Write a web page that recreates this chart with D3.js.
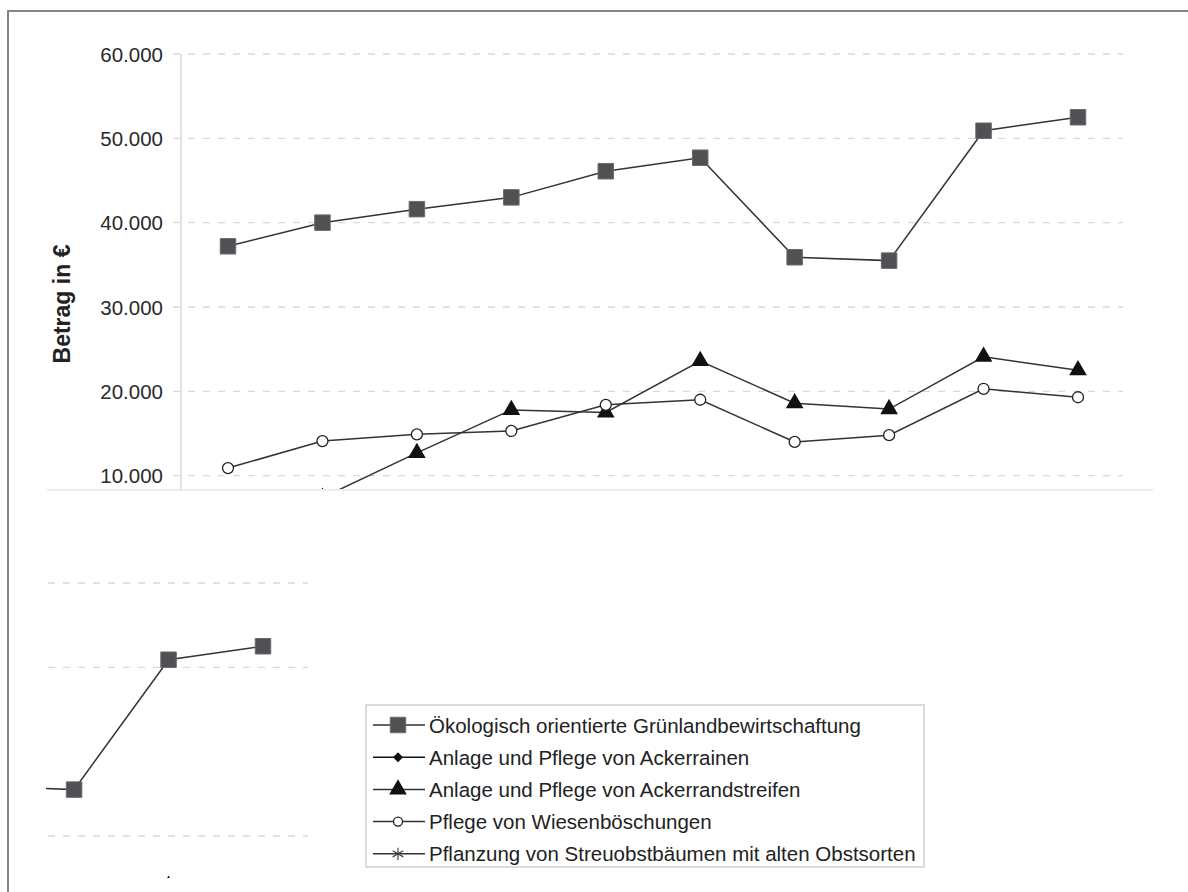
<!DOCTYPE html>
<html>
<head>
<meta charset="utf-8">
<script src="https://cdn.jsdelivr.net/npm/d3@7"></script>
<style>
  html, body { margin: 0; padding: 0; background: #fff; }
  svg { display: block; font-family: "Liberation Sans", Arial, sans-serif; }
</style>
</head>
<body>
<svg id="chart" width="1188" height="892"></svg>
<script>
// Years of the funding period (x categories, no axis labels drawn)
const years = ["1998", "1999", "2000", "2001", "2002", "2003", "2004", "2005", "2006", "2007"];

// Amounts in euro per measure
const gruenland    = [37200, 40000, 41600, 43000, 46100, 47700, 35900, 35500, 50900, 52500];
const ackerraine   = [1200, 1500, 1700, 2000, 2300, 2600, 2100, 2000, 2800, 2700];
const randstreifen = [4500, 7400, 12700, 17800, 17500, 23600, 18600, 17900, 24100, 22500];
const boeschungen  = [10900, 14100, 14900, 15300, 18400, 19000, 14000, 14800, 20300, 19300];
const streuobst    = [600, 800, 900, 1100, 1300, 1500, 1200, 1300, 1600, 1500];

const yTicks = [10000, 20000, 30000, 40000, 50000, 60000];
const repeatGrid = [60000, 50000, 30000];

const seriesNames = [
  "Ökologisch orientierte Grünlandbewirtschaftung",
  "Anlage und Pflege von Ackerrainen",
  "Anlage und Pflege von Ackerrandstreifen",
  "Pflege von Wiesenböschungen",
  "Pflanzung von Streuobstbäumen mit alten Obstsorten"
];

const series = [
  { name: seriesNames[0], values: gruenland,    marker: "square",   line: "#333" },
  { name: seriesNames[1], values: ackerraine,   marker: "diamond",  line: "#111" },
  { name: seriesNames[2], values: randstreifen, marker: "triangle", line: "#333" },
  { name: seriesNames[3], values: boeschungen,  marker: "circle",   line: "#333" },
  { name: seriesNames[4], values: streuobst,    marker: "asterisk", line: "#333" }
];

const svg = d3.select("#chart");
const de = d3.formatLocale({ decimal: ",", thousands: ".", grouping: [3], currency: ["", " €"] });
const fmt = de.format(",d");

const x = d3.scalePoint().domain(years).range([228, 1078]);
const y = d3.scaleLinear().domain([0, 60000]).range([560, 54]);

// outer frame (left and top edges)
svg.append("path")
  .attr("d", "M8,892V11H1188")
  .attr("fill", "none").attr("stroke", "#858585").attr("stroke-width", 2);

const defs = svg.append("defs");
defs.append("clipPath").attr("id", "plotClip")
  .append("rect").attr("x", 47).attr("y", 0).attr("width", 1106).attr("height", 490);
defs.append("clipPath").attr("id", "repeatClip")
  .append("rect").attr("x", 46).attr("y", 560).attr("width", 290).attr("height", 318);

function markerPath(kind, big) {
  const s = big ? 1 : 0.75;
  switch (kind) {
    case "square":   return d3.symbol(d3.symbolSquare, 240 * s * s)();
    case "diamond":  return d3.symbol(d3.symbolSquare, 90 * s * s)();
    case "triangle": return d3.symbol(d3.symbolTriangle, 135 * s * s)();
    case "asterisk": return d3.symbol(d3.symbolAsterisk || d3.symbolCross, 190 * s * s)();
  }
  return null;
}

function drawMarker(g, kind, big) {
  if (kind === "circle") {
    g.append("circle").attr("r", big ? 5.5 : 4.5)
      .attr("fill", "#fff").attr("stroke", "#222").attr("stroke-width", 1.3);
    return;
  }
  const p = g.append("path").attr("d", markerPath(kind, big));
  if (kind === "square") p.attr("fill", "#505154").attr("stroke", "#6a6a6a").attr("stroke-width", 1);
  else if (kind === "asterisk") p.attr("fill", "none").attr("stroke", "#444").attr("stroke-width", 1.2);
  else if (kind === "diamond") p.attr("fill", "#111").attr("transform", "rotate(45)");
  else p.attr("fill", "#111");
}

function drawPlot(root, gridValues) {
  root.append("g").selectAll("line").data(gridValues).join("line")
    .attr("x1", 173).attr("x2", 1123)
    .attr("y1", d => y(d)).attr("y2", d => y(d))
    .attr("stroke", "#d9d9d9").attr("stroke-width", 1.3)
    .attr("stroke-dasharray", "7,8");

  const line = d3.line().x((d, i) => x(years[i])).y(d => y(d));
  series.forEach(s => {
    root.append("path").datum(s.values)
      .attr("d", line)
      .attr("fill", "none").attr("stroke", s.line).attr("stroke-width", 1.5);
  });
  series.forEach(s => {
    s.values.forEach((v, i) => {
      const g = root.append("g").attr("transform", `translate(${x(years[i])},${y(v)})`);
      drawMarker(g, s.marker, true);
    });
  });
}

// main plot
const main = svg.append("g").attr("clip-path", "url(#plotClip)");
drawPlot(main, yTicks);

// y axis line
svg.append("line")
  .attr("x1", 181).attr("x2", 181).attr("y1", y(60000)).attr("y2", 490)
  .attr("stroke", "#cfcfcf").attr("stroke-width", 1.2);

// lower edge of the plot area
svg.append("line")
  .attr("x1", 47).attr("x2", 1153).attr("y1", 490).attr("y2", 490)
  .attr("stroke", "#ececec").attr("stroke-width", 2);

// tick labels
svg.append("g").selectAll("text").data(yTicks).join("text")
  .attr("x", 163).attr("y", d => y(d))
  .attr("text-anchor", "end").attr("dominant-baseline", "central")
  .attr("font-size", 20.5).attr("fill", "#2a2a2a")
  .text(d => fmt(d));

// y axis title
svg.append("text")
  .attr("transform", "translate(62,304) rotate(-90)")
  .attr("text-anchor", "middle").attr("dominant-baseline", "central")
  .attr("font-size", 23).attr("font-weight", "bold").attr("fill", "#222")
  .text("Betrag in €");

// repeated plot tile drawn lower left
const rep = svg.append("g").attr("clip-path", "url(#repeatClip)")
  .append("g").attr("transform", "translate(-815,529)");
drawPlot(rep, repeatGrid);

// legend
const lg = svg.append("g");
lg.append("rect")
  .attr("x", 366).attr("y", 705).attr("width", 558).attr("height", 162)
  .attr("fill", "#fff").attr("stroke", "#d0d0d0").attr("stroke-width", 1.5);
series.forEach((s, i) => {
  const cy = 725 + i * 32.2;
  const row = lg.append("g").attr("transform", `translate(0,${cy})`);
  row.append("line").attr("x1", 373).attr("x2", 425).attr("y1", 0).attr("y2", 0)
    .attr("stroke", s.line).attr("stroke-width", 1.5);
  const m = row.append("g").attr("transform", "translate(398,0)");
  drawMarker(m, s.marker, s.marker === "square" || s.marker === "triangle");
  row.append("text").attr("x", 429).attr("y", 0)
    .attr("dominant-baseline", "central")
    .attr("font-size", 20.5).attr("fill", "#222")
    .text(s.name);
});
</script>
</body>
</html>
